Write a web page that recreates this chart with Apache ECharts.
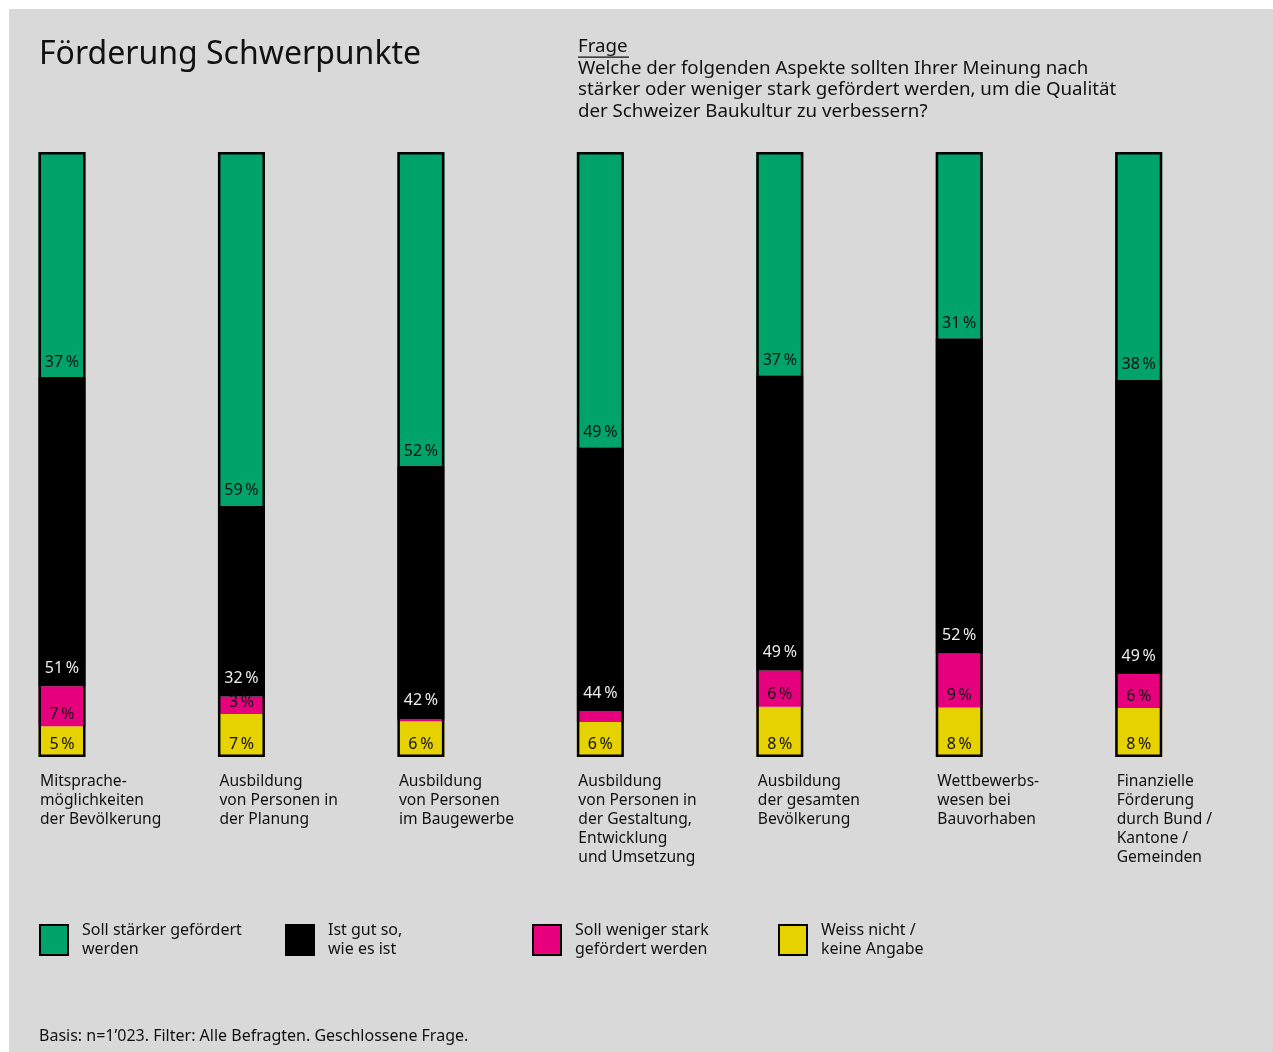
<!DOCTYPE html>
<html>
<head>
<meta charset="utf-8">
<script src="https://cdn.jsdelivr.net/npm/echarts@6/dist/echarts.min.js"></script>
<style>
  html, body { margin: 0; padding: 0; background: #ffffff; }
  #chart { position: absolute; left: 9px; top: 9px; width: 1264px; height: 1043px; background: #d9d9d9; }
</style>
</head>
<body>
<div id="chart"></div>
<script>
// ---- data (shares in %) ----
const categories = [
  'Mitsprache-\nmöglichkeiten\nder Bevölkerung',
  'Ausbildung\nvon Personen in\nder Planung',
  'Ausbildung\nvon Personen\nim Baugewerbe',
  'Ausbildung\nvon Personen in\nder Gestaltung,\nEntwicklung\nund Umsetzung',
  'Ausbildung\nder gesamten\nBevölkerung',
  'Wettbewerbs-\nwesen bei\nBauvorhaben',
  'Finanzielle\nFörderung\ndurch Bund /\nKantone /\nGemeinden'
];
const seriesNames = [
  'Soll stärker gefördert\nwerden',
  'Ist gut so,\nwie es ist',
  'Soll weniger stark\ngefördert werden',
  'Weiss nicht /\nkeine Angabe'
];
const staerker = [37.2, 58.5, 51.9, 48.8, 36.9, 30.8, 37.6];
const gutSo    = [51.1, 31.5, 41.8, 43.6, 48.8, 52.1, 48.7];
const weniger  = [6.6, 2.9, 0.4, 1.8, 6.0, 8.9, 5.6];
const weissNicht = [5.1, 7.1, 5.9, 5.8, 8.3, 8.2, 8.1];

const titleText = 'Förderung Schwerpunkte';
const frageLabel = 'Frage';
const frageText = 'Welche der folgenden Aspekte sollten Ihrer Meinung nach\nstärker oder weniger stark gefördert werden, um die Qualität\nder Schweizer Baukultur zu verbessern?';
const footnote = 'Basis: n=1’023. Filter: Alle Befragten. Geschlossene Frage.';

// ---- styles ----
const FONT = '"Noto Sans", sans-serif';
const colors = ['#00a36a', '#000000', '#e6007e', '#e5d200'];
const labelColors = ['#111111', '#eeeeee', '#111111', '#111111'];
const labelDist = [7, 10, 4, 5];

const chart = echarts.init(document.getElementById('chart'), null, { renderer: 'canvas' });

const totals = categories.map((c, i) => staerker[i] + gutSo[i] + weniger[i] + weissNicht[i]);

function pct(p) {
  return p.value >= 2.5 ? Math.round(p.value) + '\u2009%' : '';
}

const BW = 47;

function barSeries(idx, data) {
  return {
    name: seriesNames[idx],
    type: 'bar',
    stack: 'all',
    data: data,
    barWidth: BW,
    barGap: '-100%',
    clip: false,
    itemStyle: { color: colors[idx] },
    label: {
      show: true,
      position: 'insideBottom',
      distance: labelDist[idx],
      fontFamily: FONT,
      fontSize: 16,
      color: labelColors[idx],
      formatter: pct
    },
    emphasis: { disabled: true },
    silent: true
  };
}

const legendLefts = [30, 276, 523, 769];

const option = {
  backgroundColor: '#d9d9d9',
  animation: false,
  textStyle: { fontFamily: FONT },
  grid: { left: 53, right: 1264 - 53 - 1076.7, top: 143, height: 605, containLabel: false },
  xAxis: {
    type: 'category',
    data: categories,
    boundaryGap: false,
    axisLine: { show: false },
    axisTick: { show: false },
    axisLabel: { show: false },
    splitLine: { show: false }
  },
  yAxis: {
    type: 'value',
    min: 0,
    max: 100,
    show: false,
    splitLine: { show: false }
  },
  legend: legendLefts.map((l, i) => ({
    data: [seriesNames[i]],
    left: l,
    top: 912,
    padding: 0,
    orient: 'horizontal',
    icon: 'rect',
    itemWidth: 28,
    itemHeight: 30,
    selectedMode: false,
    itemStyle: { borderColor: '#000', borderWidth: 2 },
    textStyle: {
      fontFamily: FONT,
      fontSize: 16,
      lineHeight: 19,
      color: '#111',
      padding: [0, 0, 0, 9]
    }
  })),
  series: [
    barSeries(3, weissNicht),
    barSeries(2, weniger),
    barSeries(1, gutSo),
    barSeries(0, staerker),
    {
      name: 'outline',
      type: 'bar',
      data: totals,
      barWidth: BW,
      barGap: '-100%',
      clip: false,
      z: 5,
      silent: true,
      itemStyle: { color: 'rgba(0,0,0,0)', borderColor: '#000', borderWidth: 2.5 },
      label: { show: false },
      emphasis: { disabled: true }
    }
  ]
};

chart.setOption(option);

// ---- texts: title, question, footnote, category labels ----
const graphics = [
  {
    type: 'text', left: 30, top: 30,
    style: { text: titleText, fontFamily: FONT, fontSize: 32, fill: '#111' }
  },
  {
    type: 'text', left: 569, top: 27,
    style: { text: frageLabel, fontFamily: FONT, fontSize: 18.7, lineHeight: 21.5, fill: '#111' }
  },
  {
    type: 'rect', left: 569, top: 47.5,
    shape: { width: 51, height: 1.2 },
    style: { fill: '#111' }
  },
  {
    type: 'text', left: 569, top: 48.5,
    style: { text: frageText, fontFamily: FONT, fontSize: 18.7, lineHeight: 21.5, fill: '#111' }
  },
  {
    type: 'text', left: 30, top: 1018,
    style: { text: footnote, fontFamily: FONT, fontSize: 16, lineHeight: 19, fill: '#111' }
  }
];
categories.forEach((c, i) => {
  const px = chart.convertToPixel({ xAxisIndex: 0, yAxisIndex: 0 }, [i, 0]);
  graphics.push({
    type: 'text',
    x: px[0] - 22,
    y: 763,
    style: { text: c, fontFamily: FONT, fontSize: 15.6, lineHeight: 19, fill: '#111', verticalAlign: 'top' }
  });
});
chart.setOption({ graphic: graphics });
</script>
</body>
</html>
